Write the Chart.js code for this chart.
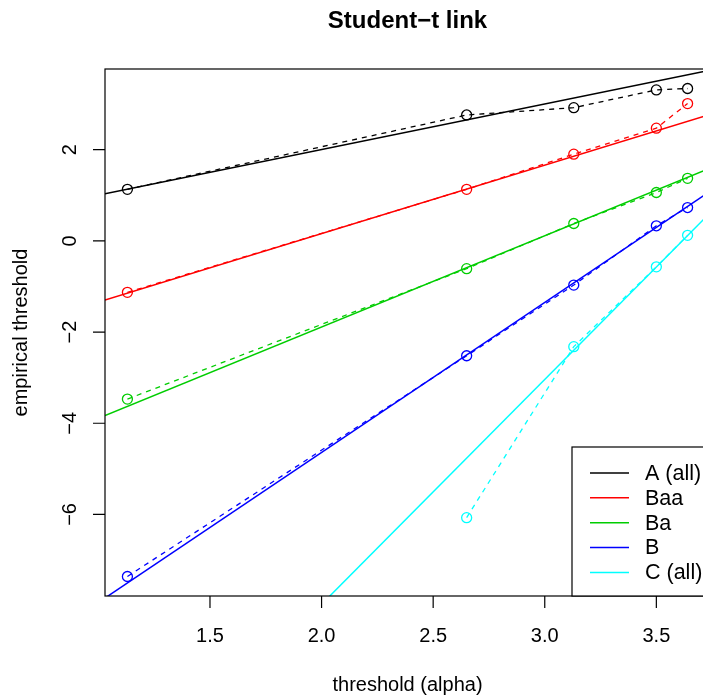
<!DOCTYPE html>
<html>
<head>
<meta charset="utf-8">
<script src="https://cdn.jsdelivr.net/npm/chart.js@4"></script>
<style>
  html, body { margin: 0; padding: 0; overflow: hidden; background: #fff; width: 703px; height: 695px; }
  canvas { display: block; }
</style>
</head>
<body>
<canvas id="c" width="720" height="695" style="width:720px;height:695px"></canvas>
<script>
// Threshold (alpha) values shared by every rating class
const thresholdAlpha = [1.13, 2.65, 3.13, 3.50, 3.64];

// Empirical thresholds per rating class (null = not available)
const empA   = [1.13, 2.76, 2.92, 3.31, 3.34];
const empBaa = [-1.13, 1.13, 1.90, 2.47, 3.01];
const empBa  = [-3.47, -0.61, 0.38, 1.06, 1.37];
const empB   = [-7.36, -2.52, -0.97, 0.33, 0.73];
const empC   = [null, -6.07, -2.32, -0.57, 0.12];

const seriesNames  = ['A (all)', 'Baa', 'Ba', 'B', 'C (all)'];
const seriesColors = ['#000000', '#FF0000', '#00CD00', '#0000FF', '#00FFFF'];

// Fitted straight lines (intercept + slope * alpha)
const fitIntercepts = [0.00, -2.84, -5.89, -11.22, -17.83];
const fitSlopes     = [1.00, 1.50, 2.00, 3.29, 4.93];

const xTicks = [1.5, 2.0, 2.5, 3.0, 3.5];
const xTickLabels = ['1.5', '2.0', '2.5', '3.0', '3.5'];
const yTicks = [-6, -4, -2, 0, 2];
const yTickLabels = ['\u22126', '\u22124', '\u22122', '0', '2'];

const titleText = 'Student\u2212t link';
const xTitle = 'threshold (alpha)';
const yTitle = 'empirical threshold';

const FONT = "'Liberation Sans', Arial, Helvetica, sans-serif";

// Axis limits padded by 4% of the data range on each side
const allY = [empA, empBaa, empBa, empB, empC].flat().filter(v => v !== null);
function padRange(lo, hi) { const d = (hi - lo) * 0.04; return [lo - d, hi + d]; }
const [xMin, xMax] = padRange(Math.min(...thresholdAlpha), Math.max(...thresholdAlpha));
const [yMin, yMax] = padRange(Math.min(...allY), Math.max(...allY));

const empSeries = [empA, empBaa, empBa, empB, empC];
const datasets = [];
empSeries.forEach((vals, i) => {
  const pts = [];
  vals.forEach((v, j) => { if (v !== null) pts.push({ x: thresholdAlpha[j], y: v }); });
  datasets.push({
    label: seriesNames[i] + ' empirical',
    data: pts,
    showLine: true,
    borderColor: seriesColors[i],
    borderWidth: 1.3,
    borderDash: [5, 5],
    pointStyle: 'circle',
    pointRadius: 5,
    pointBorderWidth: 1.3,
    pointBorderColor: seriesColors[i],
    pointBackgroundColor: 'rgba(0,0,0,0)',
    tension: 0
  });
});
fitIntercepts.forEach((a, i) => {
  const b = fitSlopes[i];
  datasets.push({
    label: seriesNames[i],
    data: [{ x: xMin, y: a + b * xMin }, { x: xMax, y: a + b * xMax }],
    showLine: true,
    borderColor: seriesColors[i],
    borderWidth: 1.5,
    pointRadius: 0,
    tension: 0
  });
});

// Base-graphics style frame, ticks, titles and legend
const rFrame = {
  id: 'rFrame',
  afterDraw(chart) {
    const { ctx, chartArea: a, scales: { x, y } } = chart;
    ctx.save();
    ctx.strokeStyle = '#000';
    ctx.lineWidth = 1.2;
    ctx.strokeRect(a.left, a.top, a.right - a.left, a.bottom - a.top);

    ctx.beginPath();
    xTicks.forEach(v => {
      const px = x.getPixelForValue(v);
      ctx.moveTo(px, a.bottom); ctx.lineTo(px, a.bottom + 12);
    });
    yTicks.forEach(v => {
      const py = y.getPixelForValue(v);
      ctx.moveTo(a.left, py); ctx.lineTo(a.left - 12, py);
    });
    ctx.stroke();

    ctx.fillStyle = '#000';
    ctx.font = '20px ' + FONT;
    ctx.textAlign = 'center';
    ctx.textBaseline = 'alphabetic';
    xTicks.forEach((v, i) => ctx.fillText(xTickLabels[i], x.getPixelForValue(v), 642));
    yTicks.forEach((v, i) => {
      ctx.save();
      ctx.translate(76, y.getPixelForValue(v));
      ctx.rotate(-Math.PI / 2);
      ctx.fillText(yTickLabels[i], 0, 0);
      ctx.restore();
    });

    const cx = (a.left + a.right) / 2;
    ctx.fillText(xTitle, cx, 691);
    ctx.save();
    ctx.translate(27, (a.top + a.bottom) / 2);
    ctx.rotate(-Math.PI / 2);
    ctx.fillText(yTitle, 0, 0);
    ctx.restore();

    ctx.font = 'bold 24px ' + FONT;
    ctx.fillText(titleText, cx, 27.5);

    // legend, bottom-right corner of the plot region
    const lw = 138, lh = 149;
    const lx = a.right - lw, ly = a.bottom - lh;
    ctx.fillStyle = '#fff';
    ctx.fillRect(lx, ly, lw, lh);
    ctx.lineWidth = 1.2;
    ctx.strokeStyle = '#000';
    ctx.strokeRect(lx, ly, lw, lh);
    ctx.font = '21.5px ' + FONT;
    ctx.textAlign = 'left';
    ctx.textBaseline = 'middle';
    seriesNames.forEach((name, i) => {
      const ry = ly + 26 + i * 24.85;
      ctx.strokeStyle = seriesColors[i];
      ctx.lineWidth = 1.5;
      ctx.beginPath();
      ctx.moveTo(lx + 18, ry); ctx.lineTo(lx + 57, ry);
      ctx.stroke();
      ctx.fillStyle = '#000';
      ctx.fillText(name, lx + 73, ry + 1);
    });
    ctx.restore();
  }
};

new Chart(document.getElementById('c'), {
  type: 'scatter',
  data: { datasets },
  options: {
    responsive: false,
    animation: false,
    events: [],
    layout: { padding: { left: 0, right: 10, top: 69, bottom: 0 } },
    plugins: { legend: { display: false }, title: { display: false }, tooltip: { enabled: false } },
    scales: {
      x: {
        type: 'linear', min: xMin, max: xMax,
        grid: { display: false }, border: { display: false },
        ticks: { display: false },
        afterFit(s) { s.height = 99; }
      },
      y: {
        type: 'linear', min: yMin, max: yMax,
        grid: { display: false }, border: { display: false },
        ticks: { display: false },
        afterFit(s) { s.width = 105; }
      }
    }
  },
  plugins: [rFrame]
});
</script>
</body>
</html>
